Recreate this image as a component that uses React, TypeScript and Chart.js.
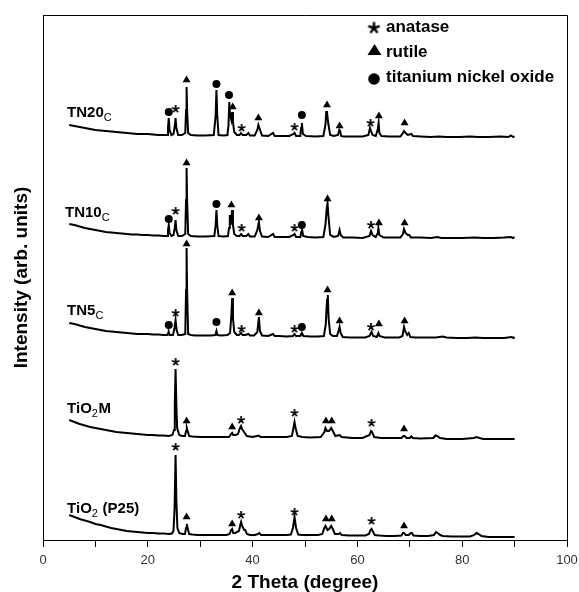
import { useEffect, useRef } from 'react';
import { Chart, registerables } from 'chart.js';
Chart.register(...registerables);

const FONT = '"Liberation Sans", Arial, Helvetica, sans-serif';

// ---- X-axis ticks ----
const xTickValues = [0, 20, 40, 60, 80, 100];

// ---- Patterns: [2theta, intensity (arb. units, stacked)] ----
const p25Pattern: number[][] = [
  [5,25],[6,23],[7,21],[8,19.5],[9,18],[10,16],[11,15],[12,13.5],[13,12],[14,11],[15,10],[16,9],[17,8.5],[18,8],[19,7.5],[20,7],[21,7],[22,6.5],[23,6.5],[24,6],[24.6,6.5],[24.9,9],[25.1,30],[25.3,85],[25.45,40],[25.65,12],[26,7],[26.6,6],[27.1,6],[27.3,12],[27.45,16],[27.6,12],[27.9,6],[28.5,5.5],[29.5,5],[31,5],[32,5],[33,5],[34,5],[35,5],[35.6,6],[35.9,10],[36.1,11],[36.3,7],[36.7,7],[37.0,8],[37.4,9],[37.65,15],[37.8,18],[38.0,14],[38.4,10],[38.6,10],[38.9,6],[39.5,5],[40.5,5],[41,6],[41.3,7],[41.6,5],[42.5,5],[43.5,5],[44.5,5],[45.5,5],[46.5,5],[47.3,5.5],[47.7,12],[48.0,23],[48.3,12],[48.7,5.5],[49.5,5],[51,5],[52.5,5],[53.3,6],[53.7,12],[53.9,14],[54.3,10],[54.6,11],[55.0,14],[55.3,11],[55.7,6],[56.4,6],[56.7,7],[57,5],[58.5,4.5],[60,4.5],[61.5,4.5],[62.2,6],[62.5,10],[62.7,11],[62.9,9],[63.3,5],[64.2,4.5],[65.5,4],[67,4],[68.4,4.5],[68.7,7],[68.9,7],[69.2,5],[69.8,5],[70.2,7],[70.4,7],[70.7,4.5],[72,4],[73.5,4],[74.6,5],[75.0,8],[75.3,7],[75.8,5],[76.3,4],[78,3.5],[80,3.5],[81.5,3.5],[82.3,5],[82.7,7],[83.1,6],[83.7,4],[85,3],[87,3],[89,3],[90,3]
];

const tio2mPattern: number[][] = [
  [5,120],[6,118],[7,116],[8,114.5],[9,113],[10,112],[11,111],[12,110],[13,109],[14,108],[15,107.5],[16,107],[17,106.5],[18,106],[19,105.5],[20,105],[21,105],[22,104.5],[23,104.5],[24,104],[24.7,105],[25.0,110],[25.15,135],[25.3,171],[25.45,135],[25.6,112],[26.0,105],[26.6,104],[27.1,104],[27.3,109],[27.45,112],[27.6,109],[27.9,104],[28.5,103.5],[30,103],[32,103],[34,103],[35.5,103],[35.9,106],[36.1,107],[36.3,105],[36.8,105],[37.2,106],[37.6,112],[37.8,114],[38.0,111],[38.5,107],[38.9,104],[40,103],[41.2,104.5],[41.5,103],[43,103],[45,103],[46.5,103],[47.5,104],[47.8,112],[48.0,118],[48.2,112],[48.6,104],[49.5,103],[51,102.5],[53,103],[53.7,108],[53.9,112],[54.2,109],[54.6,109],[55.0,112],[55.3,109],[55.8,104],[56.6,105],[57,103],[59,102],[61,102],[62.3,105],[62.6,109],[62.8,108],[63.2,103],[64.5,102],[66,102],[68.4,102],[68.8,104],[69.0,104],[69.4,102],[70.0,102],[70.3,103.5],[70.6,102],[72,101.5],[74.5,102],[74.9,104.5],[75.2,104],[75.8,102],[77,101],[80,101],[82.2,102],[82.7,103],[83.3,102],[84,101],[87,101],[90,101]
];

const tn5Pattern: number[][] = [
  [5,217],[6,216],[7,214.5],[8,213],[9,212],[10,211],[11,210],[12,209],[13,208.5],[14,208],[15,207.5],[16,207],[17,206.5],[18,206],[19,206],[20,206],[21,205.5],[22,205.5],[23,205],[23.7,205],[23.9,207],[24.0,208],[24.15,205],[24.8,205],[25.1,212],[25.3,220],[25.5,210],[25.8,205],[26.5,205],[27.15,206],[27.3,250],[27.4,292],[27.5,250],[27.7,206],[28.2,205],[29,204.5],[30.5,204.5],[32,204.5],[32.9,205],[33.1,209],[33.3,205],[34,204.5],[35.2,205],[35.7,207],[35.95,225],[36.1,242],[36.25,222],[36.5,208],[37,205],[37.4,205],[37.8,207],[38.1,205],[38.6,205],[39.2,206],[39.5,204.5],[40.3,204.5],[40.9,208],[41.2,223],[41.4,209],[41.8,204.5],[43,204],[43.9,206],[44.2,204],[45,204],[46.5,203.5],[47.7,204],[48.0,206],[48.3,204],[49.1,204],[49.4,207],[49.7,204],[51,203.5],[52.5,203.5],[53.6,204],[53.95,215],[54.2,240],[54.35,245],[54.5,222],[54.8,206],[55.3,204],[56.1,204],[56.45,210],[56.6,213],[56.8,207],[57.2,203],[58.5,202.5],[60,202.5],[61.5,202.5],[62.3,204],[62.7,208],[63.0,204],[63.7,203],[64.0,207],[64.2,204],[65.2,202.5],[66.5,202.5],[68,202.5],[68.6,204],[68.9,213],[69.1,209],[69.5,205],[69.8,207],[70.1,203],[71,202.5],[73,202.5],[75,202.5],[76.3,203.5],[77,202.5],[79,202],[81,202],[82.5,202.5],[84,202],[86,202],[88,202],[89.4,203],[89.8,202],[90,203]
];

const tn10Pattern: number[][] = [
  [5,316],[6,315],[7,313.5],[8,312],[9,311],[10,310],[11,309],[12,308],[13,307.5],[14,307],[15,306.5],[16,306],[17,305.5],[18,305.5],[19,305],[20,305],[21,304.5],[22,304.5],[23,304],[23.7,304],[23.85,310],[24.0,315],[24.15,307],[24.5,304],[24.9,305],[25.15,312],[25.3,320],[25.45,310],[25.8,304],[26.5,304],[27.15,306],[27.3,340],[27.4,372],[27.5,340],[27.7,306],[28.2,304],[29.5,303.5],[31,303.5],[32.7,304],[32.95,315],[33.1,330],[33.25,315],[33.5,304],[34.5,303.5],[35.3,304],[35.5,312],[35.65,325],[35.8,315],[35.95,322],[36.1,330],[36.25,315],[36.5,306],[37,304],[37.5,304],[37.8,306],[38.1,304],[38.8,304],[39.2,306],[39.5,303.5],[40.4,303.5],[40.9,310],[41.2,318],[41.4,309],[41.8,303.5],[43,303],[43.9,306],[44.2,303],[45.5,303],[47,303],[47.8,305],[48.0,306],[48.3,303],[49.1,303],[49.3,308],[49.45,310],[49.65,304],[50.5,303],[52,302.5],[53.5,303],[53.9,315],[54.15,332],[54.3,337],[54.45,325],[54.8,305],[55.5,303],[56.3,304],[56.6,310],[56.8,305],[57.3,302.5],[59,302.5],[61,302],[62.3,304],[62.6,309],[62.9,305],[63.5,303],[63.9,307],[64.0,312],[64.2,305],[65,302.5],[66.5,302.5],[68.2,302.5],[68.7,306],[68.9,311],[69.2,307],[69.6,305],[69.9,305],[70.2,302.5],[72,302.5],[74,302],[75.3,303],[76,302],[78,302],[80,302],[82.5,302.5],[84,302],[86,302],[88,302.5],[89.3,303],[89.7,302],[90,303]
];

const tn20Pattern: number[][] = [
  [5,415],[6,414],[7,413],[8,412],[9,411],[10,410],[11,409.5],[12,409],[13,408.5],[14,408],[15,407.5],[16,407],[17,406.5],[18,406],[19,406],[20,406],[21,405.5],[22,405],[23,405],[23.7,405],[23.85,412],[24.0,422],[24.15,410],[24.5,405],[24.9,406],[25.15,414],[25.3,422],[25.45,412],[25.8,405],[26.5,405],[27.15,407],[27.3,430],[27.4,453],[27.5,430],[27.7,407],[28.2,405],[29.5,404.5],[31,404.5],[32.6,405],[32.95,425],[33.1,450],[33.25,425],[33.5,405],[34.5,404.5],[35.2,405],[35.4,415],[35.55,438],[35.7,425],[35.95,420],[36.1,428],[36.25,418],[36.5,408],[37,405],[37.5,405],[37.8,407],[38.1,405],[38.8,405],[39.2,407],[39.5,404.5],[40.4,404.5],[40.9,410],[41.1,415],[41.3,412],[41.8,404.5],[43,404],[43.9,407],[44.2,404],[45.5,404],[47,404],[47.8,406],[48.0,407],[48.3,404],[49.1,404],[49.25,412],[49.4,417],[49.6,406],[50.2,404],[52,403.5],[53.5,404],[53.9,415],[54.05,428],[54.2,428],[54.4,418],[54.8,405],[55.5,404],[56.3,405],[56.55,410],[56.7,409],[56.9,404],[57.3,403.5],[59,403.5],[61,403.5],[62.1,405],[62.4,412],[62.6,409],[62.9,405],[63.5,404],[63.9,411],[64.05,417],[64.2,407],[64.6,404],[66,403.5],[68.2,403.5],[68.7,407],[68.9,409],[69.2,407],[69.6,405],[70.3,406],[70.6,404],[72,403.5],[74,403],[75.5,403.5],[77,403],[79.5,403],[81.5,403.5],[83,403],[85,403],[87.3,403.5],[88.8,403],[89.3,404.5],[89.7,403],[90,403.5]
];

// ---- Phase markers: [2theta, height] ----
const anataseMarks: number[][] = [
  [25.3,93],[37.8,25],[48.0,28],[62.7,19],
  [25.3,178],[37.8,120],[48.0,127],[62.7,117],
  [25.3,227],[37.9,211],[48.0,211],[62.6,213],
  [25.3,329],[37.9,312],[48.0,312],[62.6,315],
  [25.3,431],[37.9,412],[48.0,413],[62.5,417]
];
const rutileMarks: number[][] = [
  [27.4,23],[36.1,16],[54.0,21],[55.1,21],[68.9,14],
  [27.4,119],[36.1,113],[54.0,119],[55.1,119],[68.9,111],
  [27.4,296],[36.1,247],[41.2,227],[54.3,250],[56.6,219],[64.1,216],[69.0,219],
  [27.4,377],[35.95,335],[41.2,322],[54.3,341],[64.1,317],[69.0,317],
  [27.4,460],[36.2,433],[41.1,422],[54.2,435],[56.6,414],[64.1,424],[69.0,417]
];
const nickelOxideMarks: number[][] = [
  [24.0,215],[33.1,218],[49.4,213],
  [24.0,321],[33.1,336],[49.4,315],
  [24.0,428],[33.1,456],[35.5,445],[49.4,425]
];

// ---- Sample labels ----
const sampleLabels = [
  { parts: [['TN20', 0], ['C', 1]], x: 4.6, y: 423 },
  { parts: [['TN10', 0], ['C', 1]], x: 4.2, y: 323 },
  { parts: [['TN5', 0], ['C', 1]], x: 4.6, y: 225 },
  { parts: [['TiO', 0], ['2', 1], ['M', 0]], x: 4.6, y: 127 },
  { parts: [['TiO', 0], ['2', 1], [' (P25)', 0]], x: 4.6, y: 27 },
];
const legendItems = ['anatase', 'rutile', 'titanium nickel oxide'];

function makeStar(len: number, lw: number): HTMLCanvasElement {
  const s = Math.ceil(len * 2 + lw + 2);
  const c = document.createElement('canvas');
  c.width = s; c.height = s;
  const g = c.getContext('2d')!;
  g.strokeStyle = '#000';
  g.lineWidth = lw;
  g.lineCap = 'butt';
  const cx = s / 2, cy = s / 2;
  g.beginPath();
  for (let k = 0; k < 5; k++) {
    const ang = -Math.PI / 2 + (k * 2 * Math.PI) / 5;
    g.moveTo(cx, cy);
    g.lineTo(cx + Math.cos(ang) * len, cy + Math.sin(ang) * len);
  }
  g.stroke();
  return c;
}

export default function App() {
  const ref = useRef<HTMLCanvasElement>(null);
  useEffect(() => {
    const star = makeStar(4, 1.7);
    const legendStar = makeStar(6, 2.4);
    const toXY = (a: number[][]) => a.map(([x, y]) => ({ x, y }));
    const lineDs = (d: number[][]) => ({
      data: toXY(d), borderColor: '#000', borderWidth: 2, pointRadius: 0,
      fill: false, tension: 0, showLine: true,
    });
    const markDs = (d: number[][], style: any, r: number) => ({
      data: toXY(d), showLine: false, pointStyle: style, pointRadius: r,
      backgroundColor: '#000', borderColor: '#000', borderWidth: 0,
    });

    const overlay = {
      id: 'overlay',
      afterDraw(chart: any) {
        const { ctx, chartArea: a, scales } = chart;
        ctx.save();
        ctx.strokeStyle = '#000';
        ctx.lineWidth = 1;
        ctx.beginPath();
        ctx.moveTo(Math.round(a.left) + 0.5, Math.round(a.top) + 0.5);
        ctx.lineTo(Math.round(a.right) + 0.5, Math.round(a.top) + 0.5);
        ctx.lineTo(Math.round(a.right) + 0.5, Math.round(a.bottom) + 0.5);
        ctx.stroke();
        ctx.fillStyle = '#000';
        ctx.textBaseline = 'alphabetic';
        ctx.textAlign = 'left';
        for (const lab of sampleLabels) {
          let px = scales.x.getPixelForValue(lab.x);
          const py = scales.y.getPixelForValue(lab.y);
          for (const [t, sub] of lab.parts as any[]) {
            ctx.font = sub ? `11px ${FONT}` : `bold 15px ${FONT}`;
            ctx.fillText(t, px, sub ? py + 4 : py);
            px += ctx.measureText(t).width + (sub ? 0.5 : 0);
          }
        }
        const lx = 374, tx = 386;
        ctx.drawImage(legendStar, lx - legendStar.width / 2, 28 - legendStar.height / 2);
        ctx.beginPath();
        ctx.moveTo(lx + 0.5, 44); ctx.lineTo(lx + 7.5, 55); ctx.lineTo(lx - 6.5, 55); ctx.closePath();
        ctx.fill();
        ctx.beginPath();
        ctx.arc(lx, 79, 5.8, 0, Math.PI * 2);
        ctx.fill();
        ctx.font = `bold 17px ${FONT}`;
        ctx.fillText(legendItems[0], tx, 32);
        ctx.fillText(legendItems[1], tx, 57);
        ctx.fillText(legendItems[2], tx, 82);
        ctx.restore();
      },
    };

    const chart = new Chart(ref.current!, {
      type: 'line',
      data: {
        datasets: [
          lineDs(p25Pattern), lineDs(tio2mPattern), lineDs(tn5Pattern),
          lineDs(tn10Pattern), lineDs(tn20Pattern),
          markDs(anataseMarks, star, 5),
          markDs(rutileMarks, 'triangle', 4.6),
          markDs(nickelOxideMarks, 'circle', 4),
        ] as any,
      },
      options: {
        animation: false,
        responsive: true,
        maintainAspectRatio: false,
        devicePixelRatio: 1,
        layout: { padding: { top: 15, right: 12, left: 0, bottom: 0 } },
        plugins: { legend: { display: false }, tooltip: { enabled: false } },
        scales: {
          x: {
            type: 'linear', min: 0, max: 100,
            afterFit: (s: any) => { s.height = 52; s.paddingRight = 0; s.paddingLeft = 0; },
            ticks: {
              stepSize: 10, autoSkip: false, maxRotation: 0, padding: 6,
              color: '#333', font: { size: 13, family: FONT },
              callback: (v: any) => (xTickValues.includes(Number(v)) ? String(v) : ''),
            },
            grid: { display: true, drawOnChartArea: false, drawTicks: true, tickLength: 7, color: '#000', lineWidth: 1 },
            border: { display: true, color: '#000', width: 1 },
            title: {
              display: true, text: '2 Theta (degree)', color: '#000',
              font: { size: 19, weight: 'bold', family: FONT, lineHeight: 1 },
              padding: { top: 0, bottom: 0 },
            },
          },
          y: {
            type: 'linear', min: 0, max: 525,
            afterFit: (s: any) => { s.width = 43; s.paddingTop = 0; s.paddingBottom = 0; },
            ticks: { display: false },
            grid: { display: false },
            border: { display: true, color: '#000', width: 1 },
            title: {
              display: true, text: 'Intensity (arb. units)', color: '#000',
              font: { size: 19, weight: 'bold', family: FONT, lineHeight: 1 },
              padding: { top: 12, bottom: 0 },
            },
          },
        },
      } as any,
      plugins: [overlay],
    });
    return () => chart.destroy();
  }, []);

  return (
    <div style={{ position: 'fixed', left: 0, top: 0, width: 579, height: 592, background: '#fff' }}>
      <canvas ref={ref} />
    </div>
  );
}
